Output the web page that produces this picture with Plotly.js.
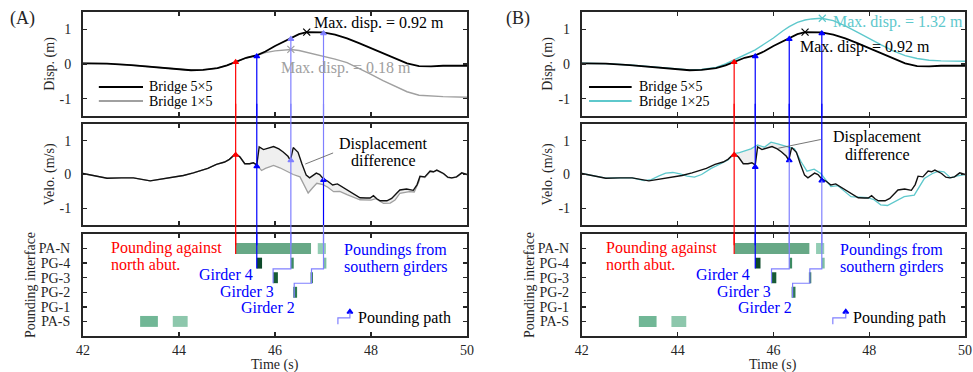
<!DOCTYPE html>
<html><head><meta charset="utf-8">
<script src="https://cdn.plot.ly/plotly-3.0.1.min.js"></script>
<style>html,body{margin:0;padding:0;background:#fff}#chart{width:973px;height:372px}</style>
</head><body><div id="chart"></div>
<script>
// ---------------- data ----------------
const dispT = [42.0, 42.5, 43.0, 43.5, 44.0, 44.25, 44.5, 44.8, 45.0, 45.2, 45.4, 45.62, 45.8, 46.0, 46.2, 46.33, 46.5, 46.66, 46.8, 47.0, 47.25, 47.5, 47.75, 48.0, 48.25, 48.5, 48.75, 49.0, 49.25, 49.5, 50.0];
const disp5x5 = [0.02, 0.01, -0.03, -0.09, -0.16, -0.18, -0.17, -0.12, -0.04, 0.07, 0.18, 0.25, 0.36, 0.52, 0.66, 0.75, 0.86, 0.92, 0.92, 0.91, 0.85, 0.74, 0.6, 0.45, 0.3, 0.15, 0.02, -0.06, -0.07, -0.05, -0.05];
const disp1x5 = [0.02, 0.01, -0.03, -0.09, -0.16, -0.18, -0.17, -0.12, -0.04, 0.07, 0.18, 0.25, 0.33, 0.38, 0.41, 0.42, 0.39, 0.34, 0.29, 0.22, 0.14, 0.04, -0.12, -0.3, -0.48, -0.65, -0.8, -0.9, -0.93, -0.94, -0.96];
const disp1x25 = [0.02, 0.01, -0.03, -0.08, -0.15, -0.17, -0.16, -0.1, 0.0, 0.13, 0.28, 0.41, 0.57, 0.75, 0.96, 1.08, 1.2, 1.27, 1.3, 1.32, 1.25, 1.1, 0.92, 0.73, 0.55, 0.38, 0.24, 0.16, 0.11, 0.09, 0.08];

const velT5 = [42.0, 42.35, 42.5, 42.8, 43.05, 43.4, 43.74, 44.09, 44.3, 44.44, 44.6, 44.78, 44.95, 45.05, 45.18, 45.27, 45.37, 45.47, 45.55, 45.62, 45.67, 45.76, 45.87, 45.97, 46.08, 46.17, 46.27, 46.32, 46.38, 46.48, 46.56, 46.65, 46.72, 46.86, 46.93, 47.0, 47.1, 47.2, 47.3, 47.44, 47.56, 47.77, 47.9, 47.98, 48.05, 48.12, 48.19, 48.33, 48.43, 48.6, 48.74, 48.88, 48.96, 49.02, 49.12, 49.23, 49.3, 49.37, 49.51, 49.6, 49.68, 49.78, 49.89, 50.0];
const vel5x5 = [0.03, -0.07, -0.11, -0.1, -0.1, -0.19, -0.12, -0.03, 0.05, 0.1, 0.18, 0.3, 0.37, 0.45, 0.62, 0.52, 0.32, 0.32, 0.35, 0.28, 0.82, 0.74, 0.78, 0.83, 0.76, 0.67, 0.54, 0.42, 0.8, 0.66, 0.32, -0.02, -0.1, 0.04, 0.0, -0.12, -0.2, -0.31, -0.28, -0.41, -0.51, -0.69, -0.7, -0.7, -0.63, -0.72, -0.78, -0.78, -0.71, -0.46, -0.43, -0.47, -0.3, -0.05, -0.07, 0.1, 0.08, 0.13, 0.03, -0.08, -0.1, -0.07, 0.05, 0.0];

const velT1x5 = [42.0, 42.35, 42.5, 42.8, 43.05, 43.4, 43.74, 44.09, 44.3, 44.44, 44.6, 44.78, 44.95, 45.05, 45.18, 45.27, 45.37, 45.47, 45.55, 45.62, 45.72, 45.8, 45.97, 46.1, 46.24, 46.38, 46.52, 46.6, 46.69, 46.78, 46.87, 47.0, 47.1, 47.22, 47.35, 47.5, 47.77, 48.0, 48.1, 48.26, 48.4, 48.5, 48.6, 48.8, 48.9, 49.0, 49.02, 49.12, 49.23, 49.3, 49.37, 49.51, 49.6, 49.68, 49.78, 49.89, 50.0];
const vel1x5 = [0.03, -0.07, -0.11, -0.1, -0.1, -0.19, -0.12, -0.03, 0.05, 0.1, 0.18, 0.3, 0.37, 0.45, 0.62, 0.52, 0.32, 0.32, 0.35, 0.28, 0.12, 0.18, 0.27, 0.2, 0.1, 0.0, -0.07, -0.3, -0.55, -0.4, -0.26, -0.3, -0.38, -0.51, -0.5, -0.6, -0.75, -0.76, -0.72, -0.86, -0.85, -0.76, -0.56, -0.51, -0.52, -0.2, -0.07, -0.09, 0.08, 0.07, 0.12, 0.02, -0.09, -0.11, -0.08, 0.04, 0.0];

const velT1x25 = [42.0, 42.35, 42.5, 42.8, 43.05, 43.3, 43.45, 43.6, 43.75, 43.9, 44.05, 44.2, 44.35, 44.5, 44.7, 44.9, 45.05, 45.18, 45.29, 45.53, 45.67, 45.81, 45.95, 46.09, 46.3, 46.44, 46.58, 46.7, 46.85, 46.99, 47.2, 47.34, 47.62, 47.97, 48.1, 48.24, 48.38, 48.55, 48.73, 48.94, 49.15, 49.32, 49.45, 49.56, 49.7, 49.84, 50.0];
const vel1x25 = [0.03, -0.07, -0.11, -0.1, -0.1, -0.18, -0.15, -0.05, 0.04, 0.06, 0.02, -0.05, -0.08, 0.0, 0.18, 0.32, 0.43, 0.62, 0.65, 0.76, 0.88, 0.81, 0.96, 0.91, 0.81, 0.76, 0.37, 0.1, 0.16, 0.03, -0.36, -0.33, -0.66, -0.69, -0.75, -0.9, -0.92, -0.8, -0.66, -0.61, -0.12, 0.03, 0.1, 0.08, -0.1, -0.04, 0.0];

// pounding lines (time) and marker values
const poundT = [45.18, 45.62, 46.33, 47.01];
const dispMark = [0.05, 0.22, 0.72, 0.88];
const velMarkA = [0.58, 0.24, 0.42, -0.17];
const velMarkB = [0.58, 0.22, 0.42, -0.18];
// staircase paths in pounding-interface panel
const pathT = [[45.18], [45.62], [46.33, 45.96], [47.01, 46.76, 46.40]];
const pathLevel = [[5.63], [4.63], [4.6, 3.62], [4.6, 3.62, 2.62]];

// pounding bars
const interfaceLabels = ['PA-S', 'PG-1', 'PG-2', 'PG-3', 'PG-4', 'PA-N'];
const interfaceLevels = [1, 2, 3, 4, 5, 6];
const barLevel = [6, 6, 5, 5, 5, 4, 4, 3, 1, 1];
const barStart = [45.18, 46.89, 45.62, 46.33, 47.01, 45.96, 46.74, 46.38, 43.19, 43.87];
const barEnd = [46.75, 47.06, 45.73, 46.39, 47.07, 46.06, 46.79, 46.46, 43.56, 44.18];
const barColor = ['#67a886', '#93cdb4', '#0d4a2a', '#3c8b62', '#7fc0a1', '#185c36', '#2f7b51', '#2e7b51', '#71b796', '#8dc7ac'];

const timeTicks = [42, 44, 46, 48, 50];
const respTicks = [-1, 0, 1];
const respTickText = ['-1', '0', '1'];

// ---------------- styling ----------------
const FONT = 'Liberation Serif, Times New Roman, serif';
const INK = '#262626';
const RED = '#ff0000', BLUE = '#0000ff', LIGHT = '#8080ff';
const GRAY = '#a0a0a0', CYAN = '#5ec8cc';
const H = 352; // plot-area height (margin bottom 20)
const xDomA = [0.0853, 0.48], xDomB = [0.598, 0.9918];
const yTop = [(H - 116) / H, (H - 12) / H], yMid = [(H - 225) / H, (H - 124) / H], yBot = [(H - 336) / H, (H - 234) / H];

function frame(extra) {
  return Object.assign({
    showline: true, linewidth: 2, linecolor: INK, mirror: 'ticks',
    ticks: 'inside', ticklen: 4, tickwidth: 1.3, tickcolor: INK,
    showgrid: false, zeroline: false, fixedrange: true,
    tickfont: {family: FONT, size: 14, color: INK}
  }, extra);
}
function xAx(dom, anchor, labels) {
  return frame({domain: dom, anchor: anchor, range: [42, 50], tickvals: timeTicks, showticklabels: labels, ticklabelstandoff: 0,
    tickfont: {family: FONT, size: 14, color: INK}});
}
function yResp(dom, anchor, title) {
  return frame({domain: dom, anchor: anchor, range: [-1.5, 1.5], tickvals: respTicks, ticktext: respTickText, ticklabelstandoff: 7,
    title: {text: title, standoff: 2, font: {family: FONT, size: 14, color: INK}}});
}
function yIface(dom, anchor) {
  return frame({domain: dom, anchor: anchor, range: [0, 7], tickvals: interfaceLevels, ticktext: interfaceLabels, ticklabelstandoff: 8,
    tickfont: {family: FONT, size: 14, color: INK},
    title: {text: 'Pounding interface', standoff: 0, font: {family: FONT, size: 14, color: INK}}});
}

function sliceXY(t, v, t0, t1) {
  const xs = [], ys = [];
  for (let i = 0; i < t.length; i++) if (t[i] >= t0 && t[i] <= t1) { xs.push(t[i]); ys.push(v[i]); }
  return [xs, ys];
}
function fillBetween(tA, vA, tB, vB, t0, t1, xa, ya) {
  const [xa1, ya1] = sliceXY(tA, vA, t0, t1);
  const [xb1, yb1] = sliceXY(tB, vB, t0, t1);
  return {x: xa1.concat(xb1.slice().reverse()), y: ya1.concat(yb1.slice().reverse()), xaxis: xa, yaxis: ya,
    type: 'scatter', mode: 'lines', fill: 'toself', fillcolor: '#efefef', line: {width: 0}, hoverinfo: 'skip'};
}
function line(x, y, xa, ya, color, w) {
  return {x: x, y: y, xaxis: xa, yaxis: ya, type: 'scatter', mode: 'lines', line: {color: color, width: w}, hoverinfo: 'skip'};
}
function marks(x, y, xa, ya, colors, sym, size) {
  return {x: x, y: y, xaxis: xa, yaxis: ya, type: 'scatter', mode: 'markers', cliponaxis: false,
    marker: {symbol: sym, size: size, color: colors, line: {color: colors, width: 1.2}}, hoverinfo: 'skip'};
}

const traces = [];
const shapes = [];
const ann = [];

function panel(p) {
  const [xt, xm, xb] = p.x; const [yt, ym, yb] = p.y;
  // top: displacement
  traces.push(line(dispT, p.otherDisp, xt, yt, p.otherColor, 1.4));
  traces.push(line(dispT, disp5x5, xt, yt, '#000000', 1.8));
  traces.push(marks([p.maxOther[0]], [p.maxOther[1]], xt, yt, p.otherColor, 'x-thin', 7));
  traces.push(marks([46.66], [0.92], xt, yt, '#000000', 'x-thin', 7));
  // middle: velocity
  traces.push(fillBetween(p.otherVT, p.otherV, velT5, vel5x5, p.fillRange[0], p.fillRange[1], xm, ym));
  traces.push(line(p.otherVT, p.otherV, xm, ym, p.otherColor, 1.3));
  traces.push(line(velT5, vel5x5, xm, ym, '#111111', 1.4));
  // bottom: pounding bars
  traces.push({type: 'bar', orientation: 'h', base: barStart, x: barEnd.map((e, i) => e - barStart[i]), y: barLevel,
    width: 0.75, marker: {color: barColor, line: {width: 0}}, xaxis: xb, yaxis: yb, hoverinfo: 'skip'});

  // pounding lines
  poundT.forEach((t, i) => {
    const c = p.seg[i];
    const mk = (xr, yr, y0, y1, col) => ({type: 'line', xref: xr, yref: yr, x0: t, x1: t, y0: y0, y1: y1, line: {color: col, width: 1.2}});
    shapes.push(mk(xt, yt, dispMark[i], -1.5, c[0]));
    shapes.push(mk(xm, ym + ' domain', 1, 1.2, c[0]));
    shapes.push(mk(xm, ym, p.velMark[i], 1.5, c[1]));
    shapes.push(mk(xm, ym, -1.5, p.velMark[i], c[2]));
    shapes.push(mk(xm, ym + ' domain', -0.2, 0, c[3]));
    let d = 'M' + pathT[i][0] + ',7';
    pathT[i].forEach((tt, k) => {
      d += ' L' + tt + ',' + (k === 0 ? 7 : pathLevel[i][k - 1]);
      d += ' L' + tt + ',' + pathLevel[i][k];
    });
    shapes.push({type: 'path', xref: xb, yref: yb, path: d, line: {color: c[3], width: 1.2}});
  });
  traces.push(marks(poundT, dispMark, xt, yt, p.seg.map(c => c[0]), 'triangle-up', 5));
  traces.push(marks(poundT, p.velMark, xm, ym, p.velMarkColor, 'triangle-up', 5));

  // pounding path icon
  const [ia, ib] = p.icon;
  shapes.push({type: 'path', xref: xb, yref: yb, path: `M${ia},0.8 L${ia},1.25 L${ib},1.25 L${ib},1.62`, line: {color: LIGHT, width: 1.2}});
  traces.push(marks([ib], [1.66], xb, yb, BLUE, 'triangle-up', 5));

  // legend (manual)
  shapes.push({type: 'line', xref: xt, yref: yt, x0: p.leg[0], x1: p.leg[1], y0: -0.66, y1: -0.66, line: {color: '#000', width: 2}});
  shapes.push({type: 'line', xref: xt, yref: yt, x0: p.leg[0], x1: p.leg[1], y0: -1.07, y1: -1.07, line: {color: p.otherColor, width: 2}});
  const T = (xr, yr, x, y, text, color, size, xanchor) => ann.push({xref: xr, yref: yr, x: x, y: y, text: text, showarrow: false,
    xanchor: xanchor || 'left', yanchor: 'middle', borderpad: 0, font: {family: FONT, size: size, color: color}});
  T(xt, yt, p.leg[2], -0.66, 'Bridge 5×5', '#000', 14);
  T(xt, yt, p.leg[2], -1.07, p.otherName, '#000', 14);
  // max disp labels
  T(xt, yt, p.maxLbl5[0], p.maxLbl5[1], 'Max. disp. = 0.92 m', '#000', 16);
  T(xt, yt, p.maxLblO[0], p.maxLblO[1], p.maxOtherText, p.otherColor, 16);
  // displacement difference
  T(xm, ym, p.dd[0], p.dd[1], 'Displacement', '#000', 16, 'center');
  T(xm, ym, p.dd[0], p.dd[2], 'difference', '#000', 16, 'center');
  shapes.push({type: 'line', xref: xm, yref: ym, x0: p.ddLine[0], y0: p.ddLine[1], x1: p.ddLine[2], y1: p.ddLine[3], line: {color: '#666', width: 0.9}});
  // bottom labels
  const b = p.lbl;
  T(xb, yb, b.pa, 6.03, 'Pounding against', RED, 16);
  T(xb, yb, b.pa, 4.9, 'north abut.', RED, 16);
  T(xb, yb, b.ps, 5.93, 'Poundings from', BLUE, 16);
  T(xb, yb, b.ps, 4.74, 'southern girders', BLUE, 16);
  T(xb, yb, b.g4, 4.19, 'Girder 4', BLUE, 16, 'right');
  T(xb, yb, b.g3, 3.06, 'Girder 3', BLUE, 16, 'right');
  T(xb, yb, b.g2, 1.97, 'Girder 2', BLUE, 16, 'right');
  T(xb, yb, b.pp, 1.22, 'Pounding path', '#000', 16);
  // x-axis title
  ann.push({xref: xb + ' domain', yref: 'paper', x: 0.5, y: (H - 365) / H, text: 'Time (s)', showarrow: false, borderpad: 0,
    xanchor: 'center', yanchor: 'middle', font: {family: FONT, size: 14, color: INK}});
}

panel({
  x: ['x', 'x2', 'x3'], y: ['y', 'y2', 'y3'],
  otherDisp: disp1x5, otherColor: GRAY, otherName: 'Bridge 1×5', maxOther: [46.33, 0.42], maxOtherText: 'Max. disp. = 0.18 m',
  otherVT: velT1x5, otherV: vel1x5, fillRange: [45.62, 49.05],
  velMark: velMarkA, velMarkColor: [RED, BLUE, LIGHT, BLUE],
  seg: [[RED, RED, RED, RED], [BLUE, BLUE, BLUE, BLUE], [LIGHT, LIGHT, LIGHT, LIGHT], [LIGHT, LIGHT, BLUE, LIGHT]],
  icon: [47.31, 47.56], leg: [42.33, 43.25, 43.35],
  maxLbl5: [46.79, 1.18], maxLblO: [46.1, -0.12],
  dd: [48.27, 0.9, 0.43], ddLine: [47.21, 0.64, 46.63, 0.31],
  lbl: {pa: 42.56, ps: 47.42, g4: 45.56, g3: 46.0, g2: 46.44, pp: 47.71}
});
panel({
  x: ['x4', 'x5', 'x6'], y: ['y4', 'y5', 'y6'],
  otherDisp: disp1x25, otherColor: CYAN, otherName: 'Bridge 1×25', maxOther: [47.02, 1.32], maxOtherText: 'Max. disp. = 1.32 m',
  otherVT: velT1x25, otherV: vel1x25, fillRange: [45.18, 46.45],
  velMark: velMarkB, velMarkColor: [RED, BLUE, BLUE, BLUE],
  seg: [[RED, RED, RED, RED], [BLUE, BLUE, BLUE, BLUE], [BLUE, BLUE, LIGHT, LIGHT], [BLUE, BLUE, LIGHT, LIGHT]],
  icon: [47.24, 47.51], leg: [42.15, 43.04, 43.17],
  maxLbl5: [46.54, 0.49], maxLblO: [47.23, 1.21],
  dd: [48.18, 1.1, 0.58], ddLine: [46.99, 1.04, 46.1, 0.78],
  lbl: {pa: 42.49, ps: 47.36, g4: 45.53, g3: 45.96, g2: 46.4, pp: 47.65}
});

ann.push({xref: 'paper', yref: 'paper', x: 22 / 973, y: (H - 18) / H, text: '(A)', showarrow: false, xanchor: 'center', yanchor: 'middle', font: {family: FONT, size: 18, color: INK}});
ann.push({xref: 'paper', yref: 'paper', x: 518 / 973, y: (H - 18) / H, text: '(B)', showarrow: false, xanchor: 'center', yanchor: 'middle', font: {family: FONT, size: 18, color: INK}});

const layout = {
  width: 973, height: 372, margin: {l: 0, r: 0, t: 0, b: 20},
  paper_bgcolor: '#ffffff', plot_bgcolor: 'rgba(0,0,0,0)', showlegend: false, barmode: 'overlay',
  font: {family: FONT, size: 14, color: INK},
  xaxis: xAx(xDomA, 'y', false), yaxis: yResp(yTop, 'x', 'Disp. (m)'),
  xaxis2: xAx(xDomA, 'y2', false), yaxis2: yResp(yMid, 'x2', 'Velo. (m/s)'),
  xaxis3: xAx(xDomA, 'y3', true), yaxis3: yIface(yBot, 'x3'),
  xaxis4: xAx(xDomB, 'y4', false), yaxis4: yResp(yTop, 'x4', 'Disp. (m)'),
  xaxis5: xAx(xDomB, 'y5', false), yaxis5: yResp(yMid, 'x5', 'Velo. (m/s)'),
  xaxis6: xAx(xDomB, 'y6', true), yaxis6: yIface(yBot, 'x6'),
  shapes: shapes, annotations: ann
};
Plotly.newPlot('chart', traces, layout, {staticPlot: true, displayModeBar: false});
</script></body></html>
